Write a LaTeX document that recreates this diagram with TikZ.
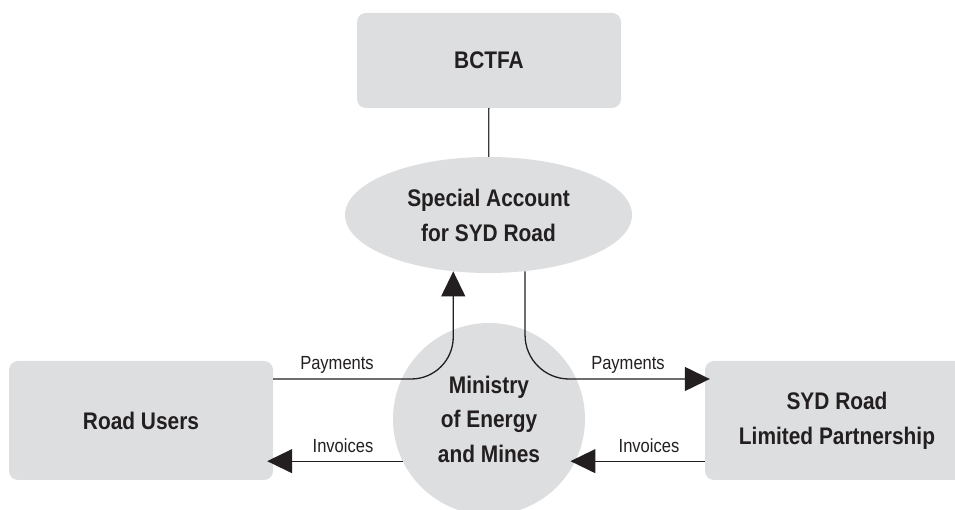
\documentclass[tikz,border=0pt]{standalone}
\usepackage{fontspec}
\setmainfont{Liberation Sans}[FakeStretch=0.87]
\definecolor{fdFill}{HTML}{DDDEE0}
\definecolor{fdInk}{HTML}{231F20}
\definecolor{fdLine}{HTML}{3A3A3A}
\usetikzlibrary{arrows.meta,shapes.geometric}

\begin{document}
\begin{tikzpicture}[x=1pt, y=1pt,
  party/.style={rounded corners=9pt, fill=fdFill, text=fdInk,
    minimum width=264pt, minimum height=119pt, align=center,
    font=\bfseries\fontsize{24}{35}\selectfont},
  account/.style={ellipse, fill=fdFill, text=fdInk, inner sep=0pt,
    minimum width=287pt, minimum height=116pt, align=center,
    font=\bfseries\fontsize{24}{35}\selectfont},
  ministry/.style={circle, fill=fdFill, text=fdInk, inner sep=0pt,
    minimum size=192pt, align=center,
    font=\bfseries\fontsize{24}{34.5}\selectfont},
  flow/.style={line width=1.3pt, color=fdLine},
  arr/.style={flow, -{Triangle[length=25pt, width=24pt]}, color=fdInk},
  lbl/.style={anchor=base, text=fdInk, inner sep=0pt,
    font=\fontsize{19}{21}\selectfont}
]
  \useasboundingbox (0,0) rectangle (955,510);
  \clip (0,0) rectangle (955,510);

  \node[party, minimum height=95pt] (bctfa) at (489,449.5) {BCTFA};
  \node[account] (special) at (488.5,295) {Special Account\\for SYD Road};
  \node[ministry] (ministry) at (489,91) {Ministry\\of Energy\\and Mines};
  \node[party] (users) at (141,89.5) {Road Users};
  \node[party] (syd) at (837,89.5) {SYD Road\\Limited Partnership};

  % money flows
  \draw[flow] (bctfa) -- (special);
  \draw[arr, rounded corners=42pt] ([yshift=41.5pt]users.east) -| (special.238);
  \draw[arr, rounded corners=44pt, shorten >=-5pt] (special.-57) |- ([yshift=41.5pt]syd.west);

  % billing
  \draw[arr, shorten >=-5pt] (syd.west |- ministry.-26) -- (ministry.-26);
  \draw[arr, shorten >=-6pt] (ministry.206) -- (users.east |- ministry.206);

  \node[lbl] (payUsers) at (337,140) {Payments};
  \node[lbl] (paySyd) at (628,140) {Payments};
  \node[lbl] (invUsers) at (343,57) {Invoices};
  \node[lbl] (invSyd) at (649,57) {Invoices};
\end{tikzpicture}
\end{document}
